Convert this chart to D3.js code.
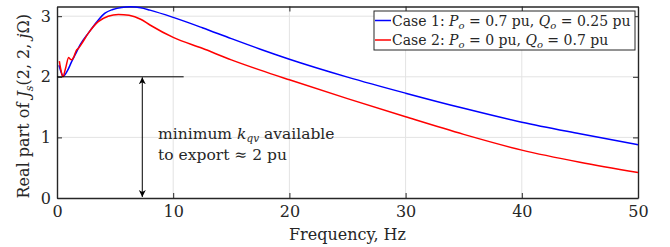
<!DOCTYPE html>
<html>
<head>
<meta charset="utf-8">
<style>
  body { margin: 0; background: #fff; }
  text { font-family: "DejaVu Serif", serif; fill: #262626; }
</style>
</head>
<body>
<script src="https://cdn.jsdelivr.net/npm/d3@7"></script>
<script>

var width = 670,
    height = 247;

// case 1: Po = 0.7 pu, Qo = 0.25 pu
var freq1 = [0.17, 0.35, 0.54, 0.9, 1.26, 1.55, 2.0, 2.7, 3.4, 4.13, 4.8, 5.56, 6.3, 7.2, 8.0,
             10, 12.5, 15, 17.5, 20, 25, 30, 35, 40, 45, 50];
var case1 = [2.19, 2.08, 2.01, 2.1, 2.25, 2.36, 2.53, 2.72, 2.90, 3.05, 3.11, 3.145, 3.155, 3.14, 3.10,
             2.98, 2.81, 2.63, 2.455, 2.29, 1.995, 1.73, 1.48, 1.25, 1.06, 0.88];

// case 2: Po = 0 pu, Qo = 0.7 pu
var freq2 = [0.2, 0.35, 0.5, 0.75, 1.0, 1.1, 1.25, 1.45, 1.65, 1.85, 2.1, 2.7, 3.55, 4.4, 5.28, 6.2,
             7.2, 8.0, 10, 12.5, 15, 17.5, 20, 25, 30, 35, 40, 45, 50];
var case2 = [2.26, 2.1, 2.0, 2.15, 2.32, 2.3, 2.28, 2.33, 2.43, 2.47, 2.54, 2.72, 2.91, 3.0, 3.03, 3.015,
             2.95, 2.855, 2.65, 2.47, 2.28, 2.11, 1.95, 1.64, 1.34, 1.05, 0.79, 0.59, 0.42];

var xTicks = [0, 10, 20, 30, 40, 50];
var yTicks = [0, 1, 2, 3];

// annotation: minimum level and arrow position
var minLevel = 2, minLineEnd = 10.9, arrowFreq = 7.34;

var svg = d3.select("body").append("svg")
    .attr("width", width)
    .attr("height", height);

var x = d3.scaleLinear().domain([0, 50]).range([57, 638]);
var y = d3.scaleLinear().domain([0, 3.16]).range([198, 6.5]);

var axisColor = "#262626";

// grid
svg.append("g").selectAll("line").data(xTicks.slice(1, -1)).enter().append("line")
    .attr("x1", x).attr("x2", x).attr("y1", y(0)).attr("y2", y(3.16))
    .attr("stroke", "#e3e3e3").attr("stroke-width", 1);
svg.append("g").selectAll("line").data(yTicks.slice(1)).enter().append("line")
    .attr("x1", x(0)).attr("x2", x(50)).attr("y1", y).attr("y2", y)
    .attr("stroke", "#e3e3e3").attr("stroke-width", 1);

// axes (ticks inward, box all round)
svg.append("g")
    .attr("transform", "translate(0," + y(0) + ")")
    .call(d3.axisBottom(x).tickValues(xTicks).tickSizeInner(-5).tickSizeOuter(0).tickPadding(8).tickFormat(d3.format("d")));
svg.append("g")
    .attr("transform", "translate(" + x(0) + ",0)")
    .call(d3.axisLeft(y).tickValues(yTicks).tickSizeInner(-5).tickSizeOuter(0).tickPadding(6).tickFormat(d3.format("d")));
svg.append("g")
    .attr("transform", "translate(0," + y(3.16) + ")")
    .call(d3.axisTop(x).tickValues(xTicks).tickSizeInner(-5).tickSizeOuter(0).tickFormat(""));
svg.append("g")
    .attr("transform", "translate(" + x(50) + ",0)")
    .call(d3.axisRight(y).tickValues(yTicks).tickSizeInner(-5).tickSizeOuter(0).tickFormat(""));

svg.selectAll(".domain").attr("stroke", axisColor).attr("stroke-width", 1.4);
svg.selectAll(".tick line").attr("stroke", axisColor);
svg.selectAll(".tick text").style("font-family", "DejaVu Serif").style("font-size", "16px")
    .attr("fill", axisColor);

// lines
var line = d3.line().curve(d3.curveMonotoneX);
svg.append("path")
    .attr("d", line(freq1.map(function(f, i) { return [x(f), y(case1[i])]; })))
    .attr("fill", "none").attr("stroke", "#0000ff").attr("stroke-width", 1.5);
svg.append("path")
    .attr("d", line(freq2.map(function(f, i) { return [x(f), y(case2[i])]; })))
    .attr("fill", "none").attr("stroke", "#ff0000").attr("stroke-width", 1.5);

// min level line and arrow
svg.append("line")
    .attr("x1", x(0)).attr("x2", x(minLineEnd)).attr("y1", y(minLevel)).attr("y2", y(minLevel))
    .attr("stroke", "#000").attr("stroke-width", 1);

var defs = svg.append("defs");
defs.append("marker").attr("id", "ah")
    .attr("viewBox", "0 0 10 10").attr("refX", 10).attr("refY", 5)
    .attr("markerWidth", 7).attr("markerHeight", 9).attr("markerUnits", "userSpaceOnUse")
    .attr("orient", "auto-start-reverse")
  .append("path").attr("d", "M0,0 L10,5 L0,10 L3,5 Z").attr("fill", "#000");

svg.append("line")
    .attr("x1", x(arrowFreq)).attr("x2", x(arrowFreq))
    .attr("y1", y(minLevel) + 0.5).attr("y2", y(0) - 1)
    .attr("stroke", "#000").attr("stroke-width", 1)
    .attr("marker-start", "url(#ah)").attr("marker-end", "url(#ah)");

// annotation text
var ann = svg.append("text").attr("x", x(8.7)).attr("y", 139).style("font-size", "15.5px").attr("fill", "#000");
ann.append("tspan").text("minimum ");
ann.append("tspan").attr("font-style", "italic").text("k");
ann.append("tspan").attr("font-style", "italic").attr("dy", 3).style("font-size", "10.5px").text("qv");
ann.append("tspan").attr("dy", -3).text(" available");
svg.append("text").attr("x", x(8.7)).attr("y", 160).style("font-size", "15.5px").attr("fill", "#000")
    .text("to export \u2248 2 pu");

// axis titles
svg.append("text")
    .attr("x", (x(0) + x(50)) / 2).attr("y", 240)
    .attr("text-anchor", "middle").style("font-size", "16px")
    .text("Frequency, Hz");

var yl = svg.append("text")
    .attr("transform", "translate(29," + ((y(0) + y(3.16)) / 2 + 4) + ") rotate(-90)")
    .attr("text-anchor", "middle").style("font-size", "16px");
yl.append("tspan").text("Real part of ");
yl.append("tspan").attr("font-style", "italic").text("J");
yl.append("tspan").attr("font-style", "italic").attr("dy", 4).style("font-size", "11px").text("s");
yl.append("tspan").attr("dy", -4).text("(2, 2, ");
yl.append("tspan").attr("font-style", "italic").text("j");
yl.append("tspan").text("\u03A9)");

// legend
var legend = svg.append("g");
legend.append("rect")
    .attr("x", 374).attr("y", 11).attr("width", 261).attr("height", 39)
    .attr("fill", "#fff").attr("stroke", axisColor).attr("stroke-width", 1);

var legendItems = [
  { color: "#0000ff", label: "Case 1: ", p: "0.7", q: "0.25" },
  { color: "#ff0000", label: "Case 2: ", p: "0", q: "0.7" }
];

legendItems.forEach(function(d, i) {
  var ly = 20.5 + i * 19.5;
  legend.append("line")
      .attr("x1", 375).attr("x2", 391).attr("y1", ly).attr("y2", ly)
      .attr("stroke", d.color).attr("stroke-width", 1.5);
  var t = legend.append("text").attr("x", 392).attr("y", ly + 5).style("font-size", "14px").attr("fill", "#000");
  t.append("tspan").text(d.label);
  t.append("tspan").attr("font-style", "italic").text("P");
  t.append("tspan").attr("font-style", "italic").attr("dy", 3).style("font-size", "10px").text("o");
  t.append("tspan").attr("dy", -3).text(" = " + d.p + " pu, ");
  t.append("tspan").attr("font-style", "italic").text("Q");
  t.append("tspan").attr("font-style", "italic").attr("dy", 3).style("font-size", "10px").text("o");
  t.append("tspan").attr("dy", -3).text(" = " + d.q + " pu");
});

</script>
</body>
</html>
